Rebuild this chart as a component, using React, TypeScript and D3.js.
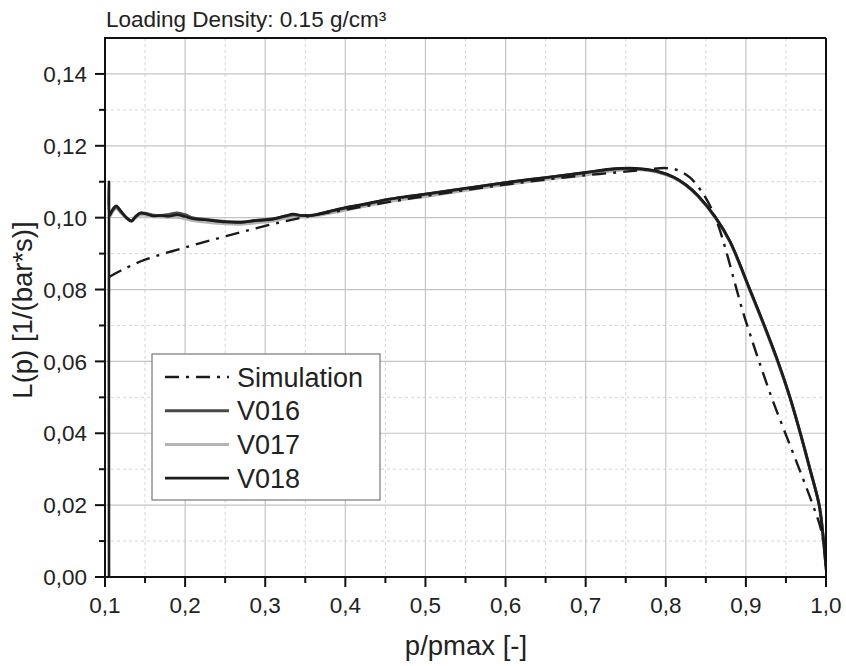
import React from 'react';
import * as d3 from 'd3';

// series: [p/pmax, L(p)]
const simulation: [number, number][] = [
  [0.105, 0.0835], [0.12, 0.0853], [0.15, 0.0883], [0.2, 0.0917], [0.25, 0.0948],
  [0.3, 0.0977], [0.35, 0.1002], [0.4, 0.1022], [0.45, 0.1042], [0.5, 0.106],
  [0.55, 0.1077], [0.6, 0.1092], [0.65, 0.1106], [0.7, 0.1118], [0.75, 0.1128],
  [0.78, 0.1135], [0.8, 0.1138], [0.815, 0.1132], [0.83, 0.1112], [0.845, 0.1072],
  [0.857, 0.1025], [0.866, 0.0975], [0.875, 0.091], [0.886, 0.082], [0.896, 0.074],
  [0.906, 0.067], [0.918, 0.059], [0.932, 0.05], [0.9475, 0.041], [0.965, 0.031],
  [0.982, 0.021], [0.994, 0.013], [1.0, 0.004]
];

const v016: [number, number][] = [
  [0.106, 0.1008], [0.11, 0.1022], [0.114, 0.103], [0.12, 0.1016], [0.127, 0.0999],
  [0.133, 0.0991], [0.138, 0.1002], [0.144, 0.1012], [0.15, 0.1012], [0.16, 0.1007],
  [0.17, 0.1006], [0.18, 0.1009], [0.19, 0.1013], [0.2, 0.1008], [0.21, 0.0999],
  [0.225, 0.0995], [0.25, 0.0989], [0.27, 0.0988], [0.29, 0.0993], [0.31, 0.0997],
  [0.325, 0.1004], [0.335, 0.1008], [0.345, 0.1006], [0.36, 0.1007], [0.38, 0.1017],
  [0.4, 0.1027], [0.42, 0.1035], [0.45, 0.1049], [0.48, 0.1059], [0.5, 0.1065],
  [0.55, 0.1081], [0.6, 0.1097], [0.65, 0.1111], [0.7, 0.1125], [0.73, 0.1134],
  [0.755, 0.1137], [0.77, 0.1135], [0.79, 0.1128], [0.81, 0.1112], [0.825, 0.1091],
  [0.84, 0.1061], [0.8625, 0.0999], [0.88, 0.0934], [0.905, 0.0799], [0.923, 0.0699],
  [0.94, 0.0599], [0.955, 0.05], [0.968, 0.04], [0.98, 0.03], [0.9915, 0.02],
  [0.997, 0.01], [1.0, 0.003]
];

const v017: [number, number][] = [
  [0.106, 0.1002], [0.11, 0.1018], [0.114, 0.1026], [0.12, 0.1013], [0.127, 0.0998],
  [0.133, 0.0992], [0.138, 0.0999], [0.144, 0.1007], [0.15, 0.1007], [0.16, 0.1003],
  [0.17, 0.1002], [0.18, 0.1001], [0.19, 0.1001], [0.2, 0.0997], [0.21, 0.0992],
  [0.225, 0.0988], [0.25, 0.0983], [0.27, 0.0982], [0.29, 0.0986], [0.31, 0.0991],
  [0.325, 0.0998], [0.335, 0.1002], [0.345, 0.1002], [0.36, 0.1004], [0.38, 0.1012],
  [0.4, 0.1021], [0.42, 0.103], [0.45, 0.1043], [0.48, 0.1053], [0.5, 0.1059],
  [0.55, 0.1076], [0.6, 0.1092], [0.65, 0.1106], [0.7, 0.1119], [0.73, 0.1129],
  [0.755, 0.1134], [0.77, 0.1133], [0.79, 0.1126], [0.81, 0.1111], [0.825, 0.109],
  [0.84, 0.106], [0.8625, 0.0998], [0.88, 0.0933], [0.905, 0.0797], [0.923, 0.0697],
  [0.94, 0.0597], [0.955, 0.0498], [0.968, 0.0399], [0.98, 0.0299], [0.9915, 0.0199],
  [0.997, 0.0099], [1.0, 0.003]
];

const v018: [number, number][] = [
  [0.105, 0.0], [0.105, 0.110], [0.1055, 0.1005], [0.11, 0.1025], [0.114, 0.1033],
  [0.12, 0.1018], [0.127, 0.1], [0.133, 0.099], [0.138, 0.1003], [0.144, 0.1013],
  [0.15, 0.1011], [0.16, 0.1005], [0.17, 0.1006], [0.18, 0.1004], [0.19, 0.1008],
  [0.2, 0.1003], [0.21, 0.0997], [0.225, 0.0994], [0.25, 0.0988], [0.27, 0.0987],
  [0.29, 0.0992], [0.31, 0.0996], [0.325, 0.1005], [0.335, 0.101], [0.345, 0.1006],
  [0.36, 0.1007], [0.38, 0.1018], [0.4, 0.1028], [0.42, 0.1036], [0.45, 0.105],
  [0.48, 0.106], [0.5, 0.1066], [0.55, 0.1082], [0.6, 0.1098], [0.65, 0.1112],
  [0.7, 0.1126], [0.73, 0.1135], [0.755, 0.1138], [0.77, 0.1136], [0.79, 0.1129],
  [0.81, 0.1113], [0.825, 0.1092], [0.84, 0.1062], [0.8625, 0.1], [0.88, 0.0935],
  [0.905, 0.08], [0.923, 0.07], [0.94, 0.06], [0.955, 0.05], [0.968, 0.04],
  [0.98, 0.03], [0.9915, 0.02], [0.997, 0.01], [1.0, 0.002]
];

const xMajorTicks = [0.1, 0.2, 0.3, 0.4, 0.5, 0.6, 0.7, 0.8, 0.9, 1.0];
const xMinorTicks = [0.15, 0.25, 0.35, 0.45, 0.55, 0.65, 0.75, 0.85, 0.95];
const yMajorTicks = [0, 0.02, 0.04, 0.06, 0.08, 0.1, 0.12, 0.14];
const yMinorTicks = [0.01, 0.03, 0.05, 0.07, 0.09, 0.11, 0.13];

const seriesNames = ['Simulation', 'V016', 'V017', 'V018'];

const W = 846;
const H = 666;
const margin = { top: 38, right: 20, bottom: 89, left: 105 };
const plotW = W - margin.left - margin.right; // 721
const plotH = H - margin.top - margin.bottom; // 539

const FONT = '"Liberation Sans", Arial, sans-serif';
const TEXT = '#222';
const SIM_DASH = '14,7,3,7';

const App = () => {
  const x = d3.scaleLinear().domain([0.1, 1.0]).range([0, plotW]);
  const y = d3.scaleLinear().domain([0, 0.15]).range([plotH, 0]);

  const line = d3.line<[number, number]>()
    .x(d => x(d[0]))
    .y(d => y(d[1]))
    .curve(d3.curveCatmullRom.alpha(0.5));

  const fmtX = (v: number) => d3.format('.1f')(v).replace('.', ',');
  const fmtY = (v: number) => d3.format('.2f')(v).replace('.', ',');

  const styles = [
    { data: simulation, stroke: '#1a1a1a', width: 2.4, dash: SIM_DASH },
    { data: v016, stroke: '#4a4a4a', width: 3, dash: undefined },
    { data: v017, stroke: '#b4b4b4', width: 3, dash: undefined },
    { data: v018, stroke: '#1c1c1c', width: 2.6, dash: undefined },
  ];

  // draw order: light gray under the darker ones, simulation on top
  const drawOrder = [2, 1, 3, 0];

  return (
    <svg
      width={W}
      height={H}
      style={{ position: 'absolute', left: 0, top: 0, background: '#fff', fontFamily: FONT }}
    >
      <defs>
        <clipPath id="plot-clip">
          <rect x={0} y={0} width={plotW} height={plotH} />
        </clipPath>
      </defs>

      <text x={margin.left + 1} y={27} fill={TEXT} style={{ fontSize: '22.5px' }}>
        Loading Density: 0.15 g/cm³
      </text>

      <g transform={`translate(${margin.left}, ${margin.top})`}>
        {/* minor grid */}
        {xMinorTicks.map(t => (
          <line key={`gxm-${t}`} x1={x(t)} x2={x(t)} y1={0} y2={plotH}
            stroke="#d6d6d6" strokeWidth={1} strokeDasharray="3,3" />
        ))}
        {yMinorTicks.map(t => (
          <line key={`gym-${t}`} x1={0} x2={plotW} y1={y(t)} y2={y(t)}
            stroke="#d6d6d6" strokeWidth={1} strokeDasharray="3,3" />
        ))}
        {/* major grid */}
        {xMajorTicks.slice(1, -1).map(t => (
          <line key={`gx-${t}`} x1={x(t)} x2={x(t)} y1={0} y2={plotH}
            stroke="#c4c4c4" strokeWidth={1.2} />
        ))}
        {yMajorTicks.slice(1).map(t => (
          <line key={`gy-${t}`} x1={0} x2={plotW} y1={y(t)} y2={y(t)}
            stroke="#c4c4c4" strokeWidth={1.2} />
        ))}

        {/* series */}
        <g clipPath="url(#plot-clip)">
          {drawOrder.map(i => (
            <path
              key={seriesNames[i]}
              d={line(styles[i].data) || ''}
              fill="none"
              stroke={styles[i].stroke}
              strokeWidth={styles[i].width}
              strokeDasharray={styles[i].dash}
              strokeLinejoin="round"
            />
          ))}
        </g>

        {/* frame */}
        <line x1={0} x2={plotW} y1={0} y2={0} stroke="#111" strokeWidth={2} />
        <line x1={plotW} x2={plotW} y1={0} y2={plotH} stroke="#111" strokeWidth={2} />
        <line x1={0} x2={0} y1={-1} y2={plotH + 1} stroke="#111" strokeWidth={2} />
        <line x1={-1} x2={plotW + 1} y1={plotH} y2={plotH} stroke="#111" strokeWidth={2} />

        {/* x ticks */}
        {xMajorTicks.map(t => (
          <g key={`xt-${t}`} transform={`translate(${x(t)}, ${plotH})`}>
            <line y1={0} y2={10} stroke="#111" strokeWidth={2} />
            <text y={36} textAnchor="middle" fill={TEXT} style={{ fontSize: '22.5px' }}>
              {fmtX(t)}
            </text>
          </g>
        ))}
        {xMinorTicks.map(t => (
          <line key={`xmt-${t}`} x1={x(t)} x2={x(t)} y1={plotH} y2={plotH + 6}
            stroke="#111" strokeWidth={2} />
        ))}

        {/* y ticks */}
        {yMajorTicks.map(t => (
          <g key={`yt-${t}`} transform={`translate(0, ${y(t)})`}>
            <line x1={0} x2={-10} stroke="#111" strokeWidth={2} />
            <text x={-18} dy="0.36em" textAnchor="end" fill={TEXT} style={{ fontSize: '22.5px' }}>
              {fmtY(t)}
            </text>
          </g>
        ))}
        {yMinorTicks.map(t => (
          <line key={`ymt-${t}`} x1={0} x2={-6} y1={y(t)} y2={y(t)}
            stroke="#111" strokeWidth={2} />
        ))}

        {/* axis titles */}
        <text
          x={466 - margin.left}
          y={plotH + 78}
          textAnchor="middle"
          fill={TEXT}
          style={{ fontSize: '27.5px' }}
        >
          p/pmax [-]
        </text>
        <text
          transform={`translate(${32 - margin.left}, ${310 - margin.top}) rotate(-90)`}
          textAnchor="middle"
          fill={TEXT}
          style={{ fontSize: '27.5px' }}
        >
          L(p) [1/(bar*s)]
        </text>

        {/* legend */}
        <g transform={`translate(${152 - margin.left}, ${354 - margin.top})`}>
          <rect x={0} y={0} width={228} height={146} fill="#fff" stroke="#777" strokeWidth={1.2} />
          {seriesNames.map((name, i) => (
            <g key={`lg-${name}`} transform={`translate(0, ${23 + i * 33.7})`}>
              <line
                x1={13}
                x2={77}
                y1={0}
                y2={0}
                stroke={styles[i].stroke}
                strokeWidth={styles[i].width}
                strokeDasharray={styles[i].dash}
              />
              <text x={85} dy="0.36em" fill={TEXT} style={{ fontSize: '27px' }}>
                {name}
              </text>
            </g>
          ))}
        </g>
      </g>
    </svg>
  );
};

export default App;
